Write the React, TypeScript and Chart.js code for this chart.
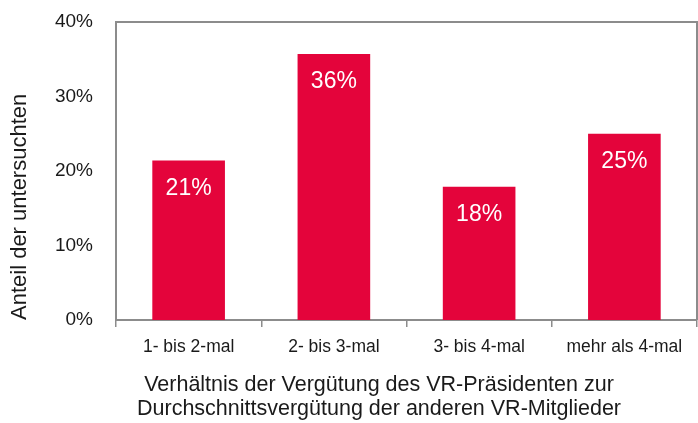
import React, { useEffect, useRef } from "react";
import { Chart, registerables } from "chart.js";

Chart.register(...registerables);

const categories = ["1- bis 2-mal", "2- bis 3-mal", "3- bis 4-mal", "mehr als 4-mal"];
const values = [21.4, 35.7, 17.9, 25.0];
const valueLabels = ["21%", "36%", "18%", "25%"];
const yTicks = [0, 10, 20, 30, 40];
const yTitle = "Anteil der untersuchten";
const xTitle = [
  "Verhältnis der Vergütung des VR-Präsidenten zur",
  "Durchschnittsvergütung der anderen VR-Mitglieder",
];

const FONT = "'Liberation Sans', Arial, sans-serif";
const TEXT = "#1a1a1a";
const AXIS = "#8c8c8c";
const BAR = "#E4043B";

const boxPlugin = {
  id: "boxPlugin",
  afterDraw(chart: any) {
    const { ctx, chartArea } = chart;
    ctx.save();
    ctx.strokeStyle = AXIS;
    ctx.lineWidth = 2;
    ctx.beginPath();
    ctx.moveTo(chartArea.left, chartArea.top);
    ctx.lineTo(chartArea.right, chartArea.top);
    ctx.lineTo(chartArea.right, chartArea.bottom);
    ctx.stroke();
    ctx.restore();
  },
};

const barLabelPlugin = {
  id: "barLabelPlugin",
  afterDatasetsDraw(chart: any) {
    const { ctx } = chart;
    const meta = chart.getDatasetMeta(0);
    ctx.save();
    ctx.fillStyle = "#ffffff";
    ctx.font = `23px ${FONT}`;
    ctx.textAlign = "center";
    ctx.textBaseline = "middle";
    meta.data.forEach((bar: any, i: number) => {
      ctx.fillText(valueLabels[i], bar.x, bar.y + 28);
    });
    ctx.restore();
  },
};

const xTitlePlugin = {
  id: "xTitlePlugin",
  afterDraw(chart: any) {
    const { ctx, chartArea } = chart;
    ctx.save();
    ctx.fillStyle = TEXT;
    ctx.font = `21.5px ${FONT}`;
    ctx.textAlign = "center";
    ctx.textBaseline = "middle";
    const cx = 379;
    xTitle.forEach((line, i) => {
      ctx.fillText(line, cx, chartArea.bottom + 65 + i * 24);
    });
    ctx.restore();
  },
};

export default function App() {
  const ref = useRef<HTMLCanvasElement | null>(null);
  useEffect(() => {
    if (!ref.current) return;
    const chart = new Chart(ref.current, {
      type: "bar",
      data: {
        labels: categories,
        datasets: [
          {
            data: values,
            backgroundColor: BAR,
            barPercentage: 0.5,
            categoryPercentage: 1,
          },
        ],
      },
      options: {
        animation: false,
        responsive: false,
        maintainAspectRatio: false,
        layout: { padding: { left: 0, right: 1, top: 22, bottom: 0 } },
        plugins: { legend: { display: false }, tooltip: { enabled: false } },
        scales: {
          x: {
            afterFit: (s: any) => {
              s.height = 103;
              s.paddingLeft = 0;
              s.paddingRight = 0;
            },
            grid: {
              display: true,
              offset: true,
              drawOnChartArea: false,
              drawTicks: true,
              tickLength: 7,
              color: AXIS,
              lineWidth: 1.5,
            },
            border: { display: true, color: AXIS, width: 2 },
            ticks: {
              color: TEXT,
              padding: 10,
              maxRotation: 0,
              font: { family: FONT, size: 17.5 },
            },
          },
          y: {
            min: 0,
            max: 40,
            afterFit: (s: any) => {
              s.width = 116;
              s.paddingTop = 0;
              s.paddingBottom = 0;
            },
            afterBuildTicks: (s: any) => {
              s.ticks = yTicks.map((v) => ({ value: v }));
            },
            grid: { display: false, drawTicks: false },
            border: { display: true, color: AXIS, width: 2 },
            ticks: {
              color: TEXT,
              padding: 23,
              callback: (v: any) => `${v}%`,
              font: { family: FONT, size: 19 },
            },
            title: {
              display: true,
              text: yTitle,
              align: "start",
              color: TEXT,
              padding: { top: 7, bottom: 0 },
              font: { family: FONT, size: 22 },
            },
          },
        },
      },
      plugins: [boxPlugin, barLabelPlugin, xTitlePlugin],
    });
    return () => chart.destroy();
  }, []);
  return (
    <div style={{ position: "fixed", left: 0, top: 0, width: 698, height: 423 }}>
      <canvas ref={ref} width={698} height={423} style={{ width: 698, height: 423 }} />
    </div>
  );
}
